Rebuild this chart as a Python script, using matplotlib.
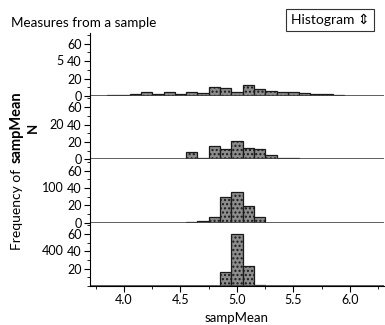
import numpy as np
import matplotlib
matplotlib.use("Agg")
import matplotlib.pyplot as plt
from matplotlib.ticker import MultipleLocator

plt.rcParams['font.family'] = ['Lato', 'DejaVu Sans']

# sample sizes (one panel each)
groups = ["5", "20", "100", "400"]

# bin centres (width 0.1) and counts
bins5 = [3.9, 4.0, 4.1, 4.2, 4.3, 4.4, 4.5, 4.6, 4.7, 4.8, 4.9, 5.0, 5.1,
         5.2, 5.3, 5.4, 5.5, 5.6, 5.7, 5.8, 5.9]
cnt5 = [1, 1, 2, 4, 2, 5, 2, 5, 3, 10, 9, 4, 13, 8, 6, 5, 4, 3, 2, 2, 1]

bins20 = [4.6, 4.7, 4.8, 4.9, 5.0, 5.1, 5.2, 5.3, 5.4, 5.5]
cnt20 = [8, 2, 15, 12, 21, 13, 12, 5, 1, 1]

bins100 = [4.6, 4.7, 4.8, 4.9, 5.0, 5.1, 5.2]
cnt100 = [1, 2, 7, 30, 35, 19, 7]

bins400 = [4.9, 5.0, 5.1, 5.2]
cnt400 = [16, 60, 23, 1]

all_bins = [bins5, bins20, bins100, bins400]
all_cnts = [cnt5, cnt20, cnt100, cnt400]

fig = plt.figure(figsize=(3.85, 3.25), dpi=100)
gs = fig.add_gridspec(4, 1, left=0.234, right=0.997, bottom=0.12, top=0.90, hspace=0)

axes = []
for i in range(4):
    ax = fig.add_subplot(gs[i, 0])
    axes.append(ax)
    ax.bar(all_bins[i], all_cnts[i], width=0.1, facecolor="#8c8c8c",
           edgecolor="#1a1a1a", linewidth=0.9, hatch="....")
    ax.axhline(0, color="#444444", lw=1.2)
    ax.set_xlim(3.7, 6.3)
    ax.set_ylim(0, 73)
    ax.spines['top'].set_visible(False)
    ax.spines['right'].set_visible(False)
    ax.yaxis.set_minor_locator(MultipleLocator(10))
    if i < 3:
        ax.set_yticks([0, 20, 40, 60])
        ax.spines['bottom'].set_visible(False)
        ax.tick_params(axis='x', bottom=False, labelbottom=False)
    else:
        ax.set_yticks([20, 40, 60])
        ax.set_xticks([4.0, 4.5, 5.0, 5.5, 6.0])
        ax.xaxis.set_minor_locator(MultipleLocator(0.25))
        ax.set_xlabel("sampMean", fontsize=9.5, labelpad=4)
    ax.tick_params(axis='both', which='major', labelsize=9, length=4, width=0.8, pad=2)
    ax.tick_params(axis='both', which='minor', length=2, width=0.6)
    # group label (N) to the left of the tick labels
    ax.annotate(groups[i], xy=(0, 40), xycoords=('axes fraction', 'data'),
                xytext=(-19, 0), textcoords='offset points',
                ha='right', va='center', fontsize=9)

# y label pieces
fig.text(17 / 385, 1 - 250 / 325, "Frequency of", rotation=90, ha='center', va='bottom', fontsize=10)
fig.text(17 / 385, 1 - 163 / 325, "sampMean", rotation=90, ha='center', va='bottom',
         fontsize=10.5, fontweight='bold')
fig.text(33 / 385, 1 - 128 / 325, "N", rotation=90, ha='center', va='center',
         fontsize=9.5, fontweight='bold')

# title and histogram button
fig.text(11 / 385, 1 - 23 / 325, "Measures from a sample", ha='left', va='center', fontsize=9.7)
fig.text(291 / 385, 1 - 20 / 325, "Histogram \u21d5", ha='left', va='center', fontsize=10,
         family=['Lato', 'DejaVu Sans'],
         bbox=dict(boxstyle='square,pad=0.35', facecolor='white', edgecolor='#333333', lw=0.8))

fig.savefig("out.png", dpi=100)
